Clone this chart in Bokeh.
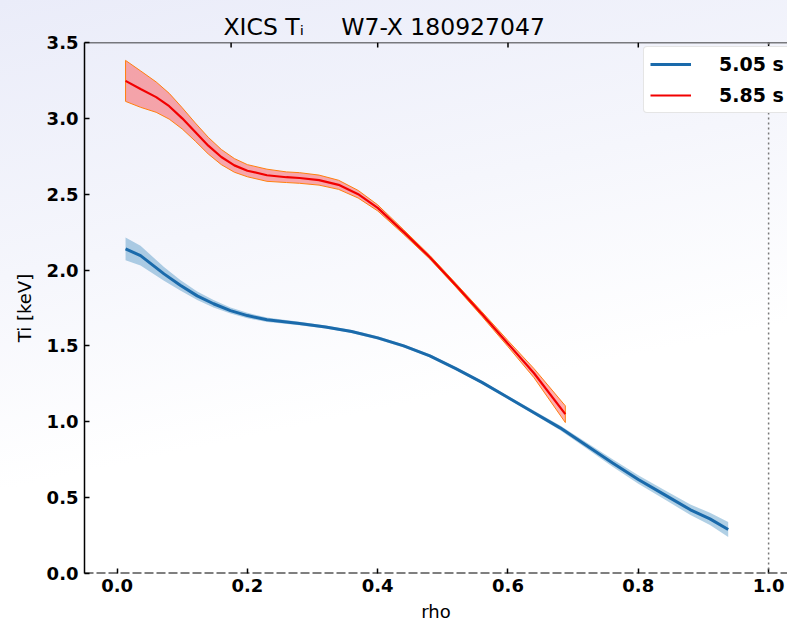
from bokeh.plotting import figure
from bokeh.models import (Range1d, Span, Legend, LegendItem,
                          FixedTicker, PrintfTickFormatter)
from bokeh.embed import file_html
from bokeh.resources import INLINE

# ---------------- data ----------------
rho_505 = [0.013, 0.036, 0.072, 0.097, 0.123, 0.148, 0.174, 0.20, 0.23, 0.25, 0.28, 0.32, 0.36, 0.40,
           0.44, 0.48, 0.52, 0.56, 0.60, 0.64, 0.68, 0.72, 0.76, 0.80, 0.84, 0.88, 0.91, 0.938]
ti_505 = [2.14, 2.095, 1.975, 1.90, 1.83, 1.778, 1.733, 1.70, 1.672, 1.663, 1.648, 1.625, 1.595, 1.553,
          1.50, 1.435, 1.35, 1.26, 1.16, 1.06, 0.96, 0.845, 0.73, 0.62, 0.52, 0.42, 0.36, 0.29]
err_505 = [0.075, 0.065, 0.045, 0.035, 0.028, 0.024, 0.02, 0.018, 0.015, 0.013, 0.012, 0.01, 0.01, 0.01,
           0.01, 0.01, 0.01, 0.01, 0.01, 0.012, 0.015, 0.02, 0.025, 0.028, 0.03, 0.035, 0.04, 0.05]

rho_585 = [0.013, 0.036, 0.06, 0.08, 0.10, 0.12, 0.14, 0.16, 0.18, 0.20, 0.23, 0.26, 0.28, 0.31,
           0.34, 0.37, 0.40, 0.44, 0.48, 0.52, 0.56, 0.60, 0.64, 0.688]
ti_585 = [3.247, 3.193, 3.14, 3.08, 3.00, 2.91, 2.82, 2.745, 2.69, 2.655, 2.625, 2.612, 2.607, 2.593,
          2.562, 2.50, 2.41, 2.25, 2.085, 1.90, 1.71, 1.515, 1.32, 1.05]
err_585 = [0.135, 0.12, 0.10, 0.085, 0.07, 0.06, 0.055, 0.05, 0.045, 0.04, 0.04, 0.035, 0.035, 0.033,
           0.03, 0.025, 0.02, 0.015, 0.012, 0.012, 0.015, 0.02, 0.03, 0.055]

x_ticks = [0.0, 0.2, 0.4, 0.6, 0.8, 1.0]
x_ticks_top = [0.175, 0.4, 0.6, 0.8, 1.0]
y_ticks = [0.0, 0.5, 1.0, 1.5, 2.0, 2.5, 3.0, 3.5]
series_labels = ["5.05 s", "5.85 s"]
title_text = "XICS T\u1d62\u00a0\u00a0\u00a0\u00a0\u00a0W7-X 180927047"
x_label = "rho"
y_label = "Ti [keV]"

FONT = "DejaVu Sans"
Y_TOP = 3.5
PX_PER_UNIT_Y = 151.9  # frame height 532 px / 3.5

p = figure(width=787, height=624, output_backend="svg", toolbar_location=None,
           x_range=Range1d(-0.05, 1.029), y_range=Range1d(0, Y_TOP),
           min_border_left=84, min_border_right=0, min_border_top=42, min_border_bottom=51,
           title=title_text)
p.border_fill_color = None
p.background_fill_color = None
p.outline_line_color = None
p.xgrid.visible = False
p.ygrid.visible = False

p.title.align = "left"
p.title.offset = 139
p.title.text_font = FONT
p.title.text_font_size = "23.5px"
p.title.text_font_style = "normal"
p.title.text_color = "black"
p.title.standoff = 4

# bottom axis (its line is replaced by the dashed span at 0)
xa = p.xaxis[0]
xa.ticker = FixedTicker(ticks=x_ticks)
xa.formatter = PrintfTickFormatter(format="%.1f")
xa.axis_line_color = None
xa.major_tick_in = 5
xa.major_tick_out = 0
xa.major_tick_line_width = 1.5
xa.minor_tick_line_color = None
xa.major_label_text_font = FONT
xa.major_label_text_font_size = "18px"
xa.major_label_text_font_style = "bold"
xa.major_label_text_color = "black"
xa.major_label_standoff = 5
xa.axis_label = x_label
xa.axis_label_text_font = FONT
xa.axis_label_text_font_size = "18px"
xa.axis_label_text_font_style = "normal"
xa.axis_label_text_color = "black"
xa.axis_label_standoff = 6

ya = p.yaxis[0]
ya.ticker = FixedTicker(ticks=y_ticks)
ya.formatter = PrintfTickFormatter(format="%.1f")
ya.axis_line_width = 1.5
ya.axis_line_color = "black"
ya.major_tick_in = 5
ya.major_tick_out = 0
ya.major_tick_line_width = 1.5
ya.minor_tick_line_color = None
ya.major_label_text_font = FONT
ya.major_label_text_font_size = "18px"
ya.major_label_text_font_style = "bold"
ya.major_label_text_color = "black"
ya.major_label_standoff = 6
ya.axis_label = y_label
ya.axis_label_text_font = FONT
ya.axis_label_text_font_size = "18px"
ya.axis_label_text_font_style = "normal"
ya.axis_label_text_color = "black"
ya.axis_label_standoff = 9

# top spine with inward ticks
p.add_layout(Span(location=Y_TOP, dimension="width", line_color="black", line_width=1.5))
tick_len = 5 / PX_PER_UNIT_Y
p.segment(x0=x_ticks_top, y0=[Y_TOP] * len(x_ticks_top), x1=x_ticks_top,
          y1=[Y_TOP - tick_len] * len(x_ticks_top), line_color="black", line_width=1.5)

# reference lines
p.add_layout(Span(location=0.0, dimension="width", line_color="black", line_width=1.8, line_dash="9 3"))
p.add_layout(Span(location=1.0, dimension="height", line_color="#777777", line_width=1.5, line_dash="2 3"))

# bands and lines
p.patch(rho_505 + rho_505[::-1],
        [t + e for t, e in zip(ti_505, err_505)] + [t - e for t, e in zip(ti_505, err_505)][::-1],
        fill_color="#1f77b4", fill_alpha=0.35, line_color=None)
blue = p.line(rho_505, ti_505, line_color="#1a6aab", line_width=3)

p.patch(rho_585 + rho_585[::-1],
        [t + e for t, e in zip(ti_585, err_585)] + [t - e for t, e in zip(ti_585, err_585)][::-1],
        fill_color="#ff0000", fill_alpha=0.32, line_color="#ff7f0e", line_width=1)
red = p.line(rho_585, ti_585, line_color="#f20000", line_width=2.2)

# legend
leg = Legend(items=[LegendItem(label=series_labels[0], renderers=[blue]),
                    LegendItem(label=series_labels[1], renderers=[red])],
             location=(559, 460), orientation="vertical",
             label_text_font=FONT, label_text_font_size="19px", label_text_font_style="bold",
             label_text_color="black",
             glyph_width=41, glyph_height=20, label_height=20, label_standoff=28,
             padding=6, spacing=9, margin=0,
             border_line_color="#cccccc", border_line_width=1, background_fill_color="white",
             background_fill_alpha=1.0)
if "border_radius" in Legend.properties():
    leg.border_radius = 4
p.add_layout(leg, "center")

html = file_html(p, INLINE)
html = html.replace("</head>",
                    "<style>html,body{margin:0;min-height:100%;background:linear-gradient(168deg,#eaecf9 0%,#f5f6fc 35%,#ffffff 62%);}</style></head>", 1)
open("out.html", "w").write(html)
